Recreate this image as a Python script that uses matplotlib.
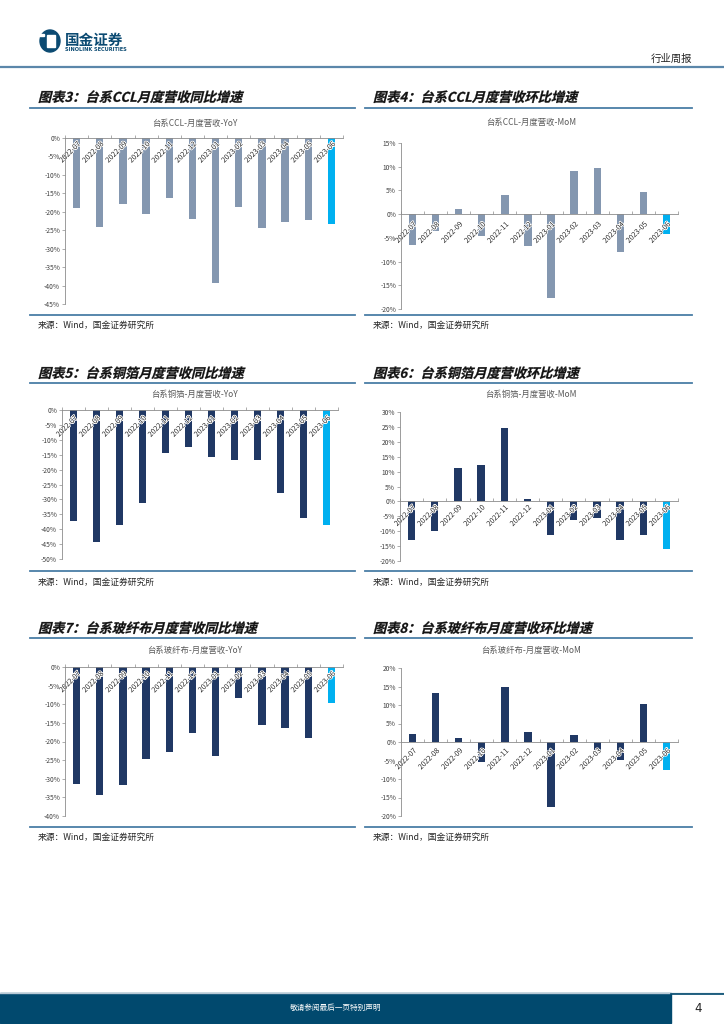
import matplotlib
matplotlib.use("Agg")
import matplotlib.pyplot as plt
from matplotlib.lines import Line2D
from matplotlib.patches import Rectangle, Ellipse, PathPatch
from matplotlib.textpath import TextPath
from matplotlib.font_manager import FontProperties
from matplotlib.transforms import Affine2D, IdentityTransform
import matplotlib.patheffects as pe

plt.rcParams['font.family'] = ['Noto Sans CJK SC', 'DejaVu Sans']
plt.rcParams['axes.unicode_minus'] = False

months = ['2022-07', '2022-08', '2022-09', '2022-10', '2022-11', '2022-12',
          '2023-01', '2023-02', '2023-03', '2023-04', '2023-05', '2023-06']
ccl_yoy = [-19.0, -24.2, -17.8, -20.6, -16.3, -22.0, -39.3, -18.6, -24.4, -22.7, -22.3, -23.2]
ccl_mom = [-6.6, -3.5, 1.1, -4.7, 4.1, -6.8, -17.6, 9.1, 9.8, -7.9, 4.7, -4.1]
cu_yoy = [-37.4, -44.4, -38.5, -31.1, -14.3, -12.3, -15.8, -16.8, -16.9, -27.8, -36.1, -38.5]
cu_mom = [-12.8, -9.8, 11.3, 12.2, 24.5, 0.7, -11.2, -6.1, -5.6, -12.8, -11.3, -16.0]
gf_yoy = [-31.5, -34.4, -31.8, -24.6, -22.8, -17.6, -24.0, -8.2, -15.6, -16.5, -19.1, -9.7]
gf_mom = [2.2, 13.2, 1.0, -5.4, 14.9, 2.6, -17.6, 1.9, -2.2, -4.8, 10.2, -7.7]

section_titles = ['图表3：台系CCL月度营收同比增速', '图表4：台系CCL月度营收环比增速',
                  '图表5：台系铜箔月度营收同比增速', '图表6：台系铜箔月度营收环比增速',
                  '图表7：台系玻纤布月度营收同比增速', '图表8：台系玻纤布月度营收环比增速']
chart_titles = ['台系CCL-月度营收-YoY', '台系CCL-月度营收-MoM',
                '台系铜箔-月度营收-YoY', '台系铜箔-月度营收-MoM',
                '台系玻纤布-月度营收-YoY', '台系玻纤布-月度营收-MoM']
source_text = '来源：Wind，国金证券研究所'

W, H = 724, 1024
fig = plt.figure(figsize=(W / 100, H / 100), dpi=100)

def fx(x):
    return x / W

def fy(y):
    return 1 - y / H

def hline(x0, x1, y, color, lw):
    fig.add_artist(Line2D([fx(x0), fx(x1)], [fy(y), fy(y)], color=color, lw=lw,
                          transform=fig.transFigure))

TITLE_FP = FontProperties(family='Noto Sans CJK SC', weight='bold')

def italic_title(x_px, y_px, s, size_pt, color):
    size_px = size_pt * 100 / 72
    tp = TextPath((0, 0), s, size=size_px, prop=TITLE_FP)
    tr = Affine2D().skew_deg(14, 0).translate(x_px, H - y_px - 0.36 * size_px)
    fig.add_artist(PathPatch(tp, transform=tr + IdentityTransform(), facecolor=color,
                             edgecolor=color, lw=0.2))

LINE_C = '#4A7EA6'
TXT_C = '#262626'

# ---------------- header ----------------
fig.add_artist(Ellipse((fx(50), fy(41)), 20 / W, 22 / H, color='#0B4A72', transform=fig.transFigure))
fig.add_artist(Rectangle((fx(47), fy(47)), 8 / W, 12 / H, color='white', transform=fig.transFigure))
fig.add_artist(Rectangle((fx(39), fy(36)), 5 / W, 2 / H, color='white', transform=fig.transFigure))
fig.text(fx(65), fy(40), '国金证券', fontsize=10.5, fontweight='bold', color='#0B4A72',
         va='center', ha='left')
fig.text(fx(65), fy(49.5), 'SINOLINK SECURITIES', fontsize=3.6, fontweight='bold', color='#0B4A72',
         va='center', ha='left', family='DejaVu Sans')
fig.text(fx(692), fy(59), '行业周报', fontsize=7.5, color=TXT_C, va='center', ha='right')
hline(0, 724, 67, '#5B87AA', 1.6)

# ---------------- footer ----------------
hline(0, 724, 992.5, '#B8C8D5', 1.0)
fig.add_artist(Rectangle((0, fy(1023)), fx(671), 30 / H, color='#01496E', transform=fig.transFigure))
hline(671, 724, 994, '#01496E', 1.2)
fig.text(fx(336), fy(1008), '敬请参阅最后一页特别声明', fontsize=5.5, color='white', va='center', ha='center')
fig.text(fx(698), fy(1009), '4', fontsize=8.5, color='#222222', va='center', ha='center',
         family='DejaVu Sans')

# ---------------- sections ----------------
# (x_left, x_right, title_y, underline_y, charttitle_y, source_line_y, source_y)
sections = [
    (30, 355, 97, 108, 123, 315, 325),
    (365, 692, 97, 108, 122, 315, 325),
    (30, 355, 373, 383, 394, 571, 582),
    (365, 692, 373, 383, 394, 571, 582),
    (30, 355, 628, 638, 650, 827, 837),
    (365, 692, 628, 638, 650, 827, 837),
]
# axes (left, right, top, bottom) in px
axes_px = [
    (65, 343, 138, 304),
    (401, 678, 143, 309),
    (62, 338, 410, 559),
    (400, 678, 412, 561),
    (65, 343, 667, 816),
    (401, 678, 668, 816),
]
data = [ccl_yoy, ccl_mom, cu_yoy, cu_mom, gf_yoy, gf_mom]
ylims = [(-45, 0), (-20, 15), (-50, 0), (-20, 30), (-40, 0), (-20, 20)]
base_colors = ['#8497B0', '#8497B0', '#203864', '#203864', '#203864', '#203864']
HIGHLIGHT = '#00B0F0'
label_pads = [1.5, 4.5, 3.0, 1.5, 2.0, 3.5]

for i in range(6):
    xl, xr, ty, uy, cty, sly, sy = sections[i]
    italic_title(xl + 8, ty, section_titles[i], 9.5, '#111111')
    hline(xl, xr, uy, LINE_C, 1.3)
    hline(xl, xr, sly, LINE_C, 1.3)
    fig.text(fx(xl + 8), fy(sy), source_text, fontsize=6.3, color=TXT_C, va='center', ha='left')

    l, r, t, b = axes_px[i]
    ax = fig.add_axes([fx(l), fy(b), (r - l) / W, (b - t) / H])
    vals = data[i]
    colors = [base_colors[i]] * (len(vals) - 1) + [HIGHLIGHT]
    x = list(range(len(months)))
    ax.bar(x, vals, width=0.32, color=colors, edgecolor='none', zorder=1)
    lo, hi = ylims[i]
    ax.set_ylim(lo, hi)
    ax.set_xlim(-0.5, len(months) - 0.5)
    yt = list(range(lo, hi + 1, 5))
    ax.set_yticks(yt)
    ax.set_yticklabels([f'{v}%' for v in yt], fontsize=4.8, color='#404040')
    ax.tick_params(axis='y', length=2, width=0.5, color='#8C8C8C', pad=1.5)
    for s in ['top', 'right']:
        ax.spines[s].set_visible(False)
    ax.spines['left'].set_color('#8C8C8C')
    ax.spines['left'].set_linewidth(0.6)
    ax.spines['bottom'].set_position(('data', 0))
    ax.spines['bottom'].set_color('#8C8C8C')
    ax.spines['bottom'].set_linewidth(0.6)
    ax.set_xticks(x)
    ax.set_xticklabels(months, rotation=45, ha='right', va='top', rotation_mode='anchor',
                       fontsize=5.2, color='#262626')
    ax.tick_params(axis='x', which='major', length=0, pad=label_pads[i])
    ax.set_xticks([v - 0.5 for v in range(len(months) + 1)], minor=True)
    ax.tick_params(axis='x', which='minor', length=2, width=0.5, color='#8C8C8C', direction='in')
    for lab in ax.get_xticklabels():
        lab.set_path_effects([pe.withStroke(linewidth=1.2, foreground='white')])
    ax.patch.set_alpha(0)
    cx = (xl + xr) / 2 + 2.5
    fig.text(fx(cx), fy(cty), chart_titles[i], fontsize=6, color='#595959', va='center', ha='center')

fig.savefig('out.png', dpi=100)
